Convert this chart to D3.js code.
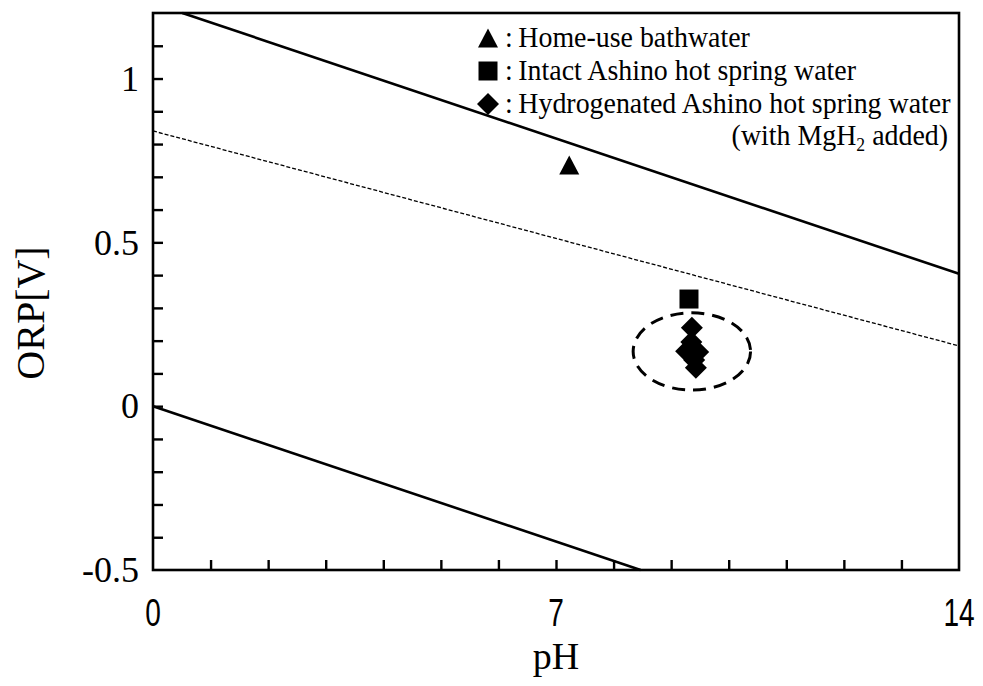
<!DOCTYPE html>
<html>
<head>
<meta charset="utf-8">
<script src="https://cdn.jsdelivr.net/npm/d3@7"></script>
<style>
  html, body { margin: 0; padding: 0; background: #fff; }
  svg { display: block; }
</style>
</head>
<body>
<svg id="chart" width="983" height="686"></svg>
<script>
// ---- data ----
const phTicks = [0, 7, 14];
const orpTicks = [-0.5, 0, 0.5, 1];
const phMinorTicks = d3.range(1, 14);
const orpMinorTicks = d3.range(-4, 12).map(d => d / 10);

// boundary lines of the water stability region and a reference line
const upperLine = [{ ph: 0.51, orp: 1.2 }, { ph: 14, orp: 0.404 }];
const lowerLine = [{ ph: 0, orp: 0 }, { ph: 8.47, orp: -0.5 }];
const dottedLine = [{ ph: 0, orp: 0.84 }, { ph: 14, orp: 0.184 }];

// measured samples
const bathwater = [{ ph: 7.23, orp: 0.736 }];
const intactSpring = [{ ph: 9.31, orp: 0.327 }];
const hydrogenatedSpring = [
  { ph: 9.36, orp: 0.239 },
  { ph: 9.35, orp: 0.196 },
  { ph: 9.26, orp: 0.168 },
  { ph: 9.47, orp: 0.165 },
  { ph: 9.40, orp: 0.141 },
  { ph: 9.43, orp: 0.117 }
];
// group outline around the hydrogenated samples
const groupEllipse = { ph: 9.36, orp: 0.167, rPh: 1.02, rOrp: 0.118 };

const legendItems = [
  { shape: "triangle", text: "Home-use bathwater" },
  { shape: "square", text: "Intact Ashino hot spring water" },
  { shape: "diamond", text: "Hydrogenated Ashino hot spring water" }
];

// ---- layout ----
const svg = d3.select("#chart");
const x = d3.scaleLinear().domain([0, 14]).range([153, 959]);
const y = d3.scaleLinear().domain([-0.5, 1.2]).range([570, 13]);
const serif = "'Liberation Serif', 'Times New Roman', serif";

function shapePath(shape, cx, cy) {
  if (shape === "triangle") {
    const w = 20, h = 19;
    return `M${cx},${cy - h / 2}L${cx + w / 2},${cy + h / 2}L${cx - w / 2},${cy + h / 2}Z`;
  }
  if (shape === "square") {
    const s = 19;
    return `M${cx - s / 2},${cy - s / 2}h${s}v${s}h${-s}Z`;
  }
  const r = 11;
  return `M${cx},${cy - r}L${cx + r},${cy}L${cx},${cy + r}L${cx - r},${cy}Z`;
}

const line = d3.line().x(d => x(d.ph)).y(d => y(d.orp));

const plot = svg.append("g");

plot.append("path").datum(upperLine).attr("d", line)
  .attr("fill", "none").attr("stroke", "#000").attr("stroke-width", 2.6);
plot.append("path").datum(lowerLine).attr("d", line)
  .attr("fill", "none").attr("stroke", "#000").attr("stroke-width", 2.6);
plot.append("path").datum(dottedLine).attr("d", line)
  .attr("fill", "none").attr("stroke", "#000").attr("stroke-width", 1.3)
  .attr("stroke-dasharray", "4,2");

// ellipse around the hydrogenated group
plot.append("ellipse")
  .attr("cx", x(groupEllipse.ph)).attr("cy", y(groupEllipse.orp))
  .attr("rx", x(groupEllipse.ph + groupEllipse.rPh) - x(groupEllipse.ph))
  .attr("ry", y(groupEllipse.orp) - y(groupEllipse.orp + groupEllipse.rOrp))
  .attr("fill", "none").attr("stroke", "#000").attr("stroke-width", 3)
  .attr("stroke-dasharray", "13,8");

// sample markers
plot.selectAll(".tri").data(bathwater).join("path")
  .attr("d", d => shapePath("triangle", x(d.ph), y(d.orp))).attr("fill", "#000");
plot.selectAll(".sq").data(intactSpring).join("path")
  .attr("d", d => shapePath("square", x(d.ph), y(d.orp))).attr("fill", "#000");
plot.selectAll(".dia").data(hydrogenatedSpring).join("path")
  .attr("d", d => shapePath("diamond", x(d.ph), y(d.orp))).attr("fill", "#000");

// ---- axes ----
const xAxis = d3.axisBottom(x).tickValues(phMinorTicks).tickSize(-10).tickFormat("");
const yAxis = d3.axisLeft(y).tickValues(orpMinorTicks).tickSize(-10).tickFormat("");
const gx = svg.append("g").attr("transform", `translate(0,${y(-0.5)})`).call(xAxis);
const gy = svg.append("g").attr("transform", `translate(${x(0)},0)`).call(yAxis);
[gx, gy].forEach(g => {
  g.select(".domain").remove();
  g.selectAll(".tick line").attr("stroke", "#000").attr("stroke-width", 2.4);
});

// frame
svg.append("rect")
  .attr("x", x(0)).attr("y", y(1.2))
  .attr("width", x(14) - x(0)).attr("height", y(-0.5) - y(1.2))
  .attr("fill", "none").attr("stroke", "#000").attr("stroke-width", 2.6);

// tick labels
svg.append("g").selectAll("text").data(orpTicks).join("text")
  .attr("x", 139).attr("y", d => y(d)).attr("dy", "0.34em")
  .attr("text-anchor", "end")
  .attr("font-family", serif).attr("font-size", 36)
  .text(d => d);

svg.append("g").selectAll("text").data(phTicks).join("text")
  .attr("transform", d => `translate(${x(d)},626) scale(0.72,1)`)
  .attr("text-anchor", "middle")
  .attr("font-family", "'Liberation Sans', Arial, sans-serif").attr("font-size", 39)
  .text(d => d);

// axis titles
svg.append("text")
  .attr("transform", `translate(44,313) rotate(-90)`)
  .attr("text-anchor", "middle")
  .attr("font-family", serif).attr("font-size", 40)
  .text("ORP[V]");
svg.append("text")
  .attr("x", x(7)).attr("y", 669)
  .attr("text-anchor", "middle")
  .attr("font-family", serif).attr("font-size", 38)
  .text("pH");

// ---- legend ----
const legend = svg.append("g");
legendItems.forEach((item, i) => {
  const cy = 38 + i * 33;
  legend.append("path").attr("d", shapePath(item.shape, 488, cy)).attr("fill", "#000");
  legend.append("text")
    .attr("transform", `translate(505,${cy + 9}) scale(0.93,1)`)
    .attr("font-family", serif).attr("font-size", 30)
    .text(":" + "\u2009" + item.text);
});
const note = legend.append("text")
  .attr("transform", "translate(948,145) scale(0.93,1)")
  .attr("text-anchor", "end")
  .attr("font-family", serif).attr("font-size", 30);
note.append("tspan").text("(with MgH");
note.append("tspan").attr("font-size", 19).attr("dy", 6).text("2");
note.append("tspan").attr("dy", -6).text(" added)");
</script>
</body>
</html>
